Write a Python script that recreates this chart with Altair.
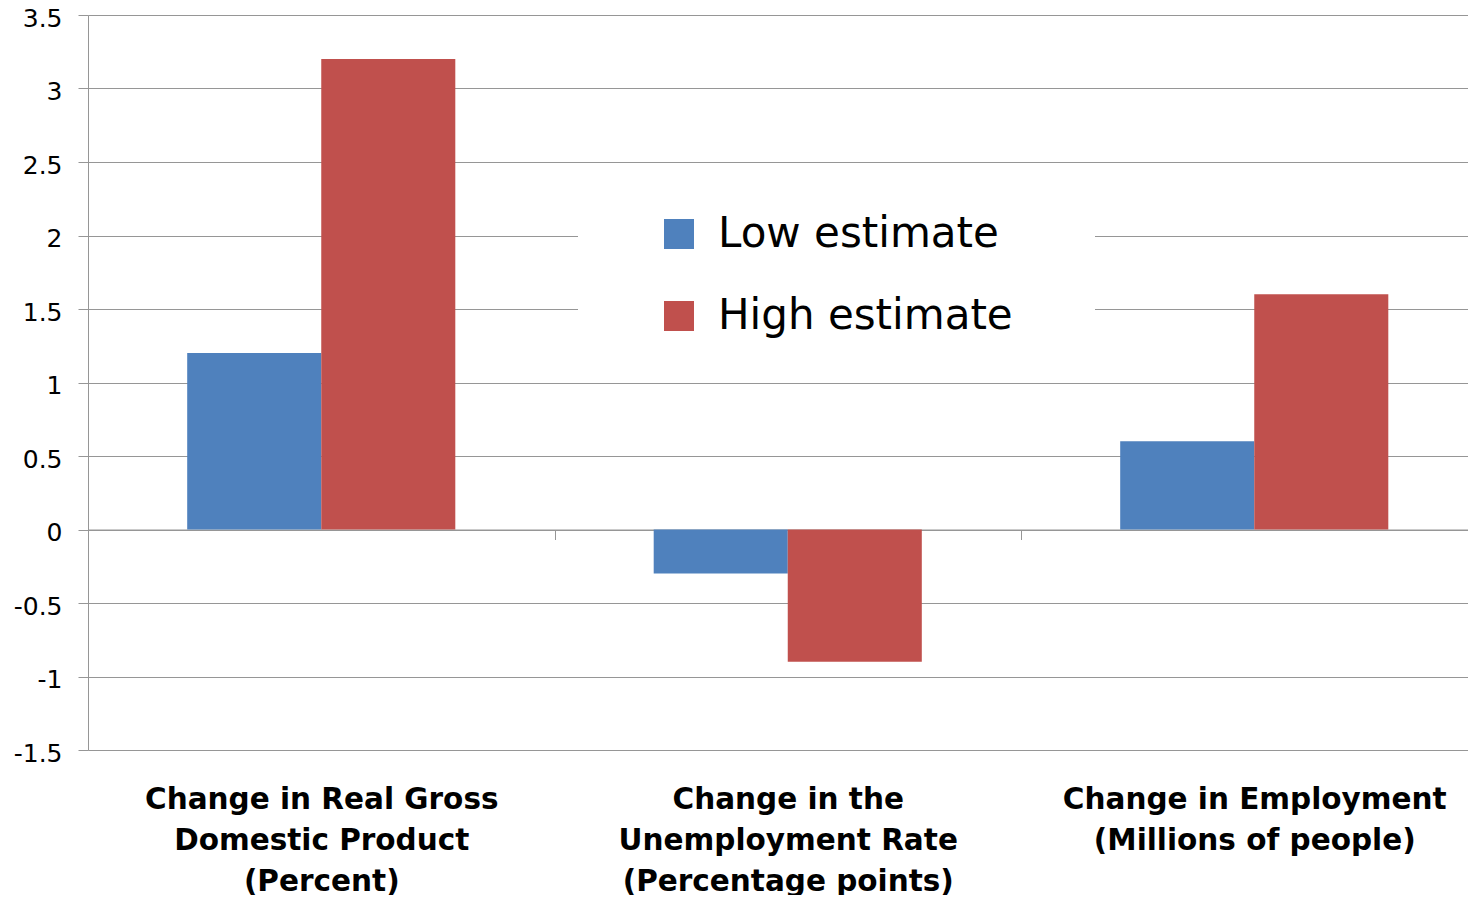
import altair as alt
import pandas as pd

# ---- data ----
categories = [
    "Change in Real Gross|Domestic Product|(Percent)",
    "Change in the|Unemployment Rate|(Percentage points)",
    "Change in Employment|(Millions of people)",
]
series = ["Low estimate", "High estimate"]
low_values = [1.2, -0.3, 0.6]
high_values = [3.2, -0.9, 1.6]
y_ticks = [-1.5, -1, -0.5, 0, 0.5, 1, 1.5, 2, 2.5, 3, 3.5]
colors = ["#4F81BD", "#C0504D"]

rows = []
for c, lo, hi in zip(categories, low_values, high_values):
    rows.append({"category": c, "series": series[0], "value": lo})
    rows.append({"category": c, "series": series[1], "value": hi})
df = pd.DataFrame(rows)

GRID = "#969696"
FONT = "DejaVu Sans"

bars = alt.Chart(df).mark_bar().encode(
    x=alt.X(
        "category:N",
        sort=categories,
        scale=alt.Scale(range=[0, 1399.5], paddingInner=0, paddingOuter=0),
        axis=alt.Axis(
            title=None,
            orient="bottom",
            offset=-220.5,
            tickBand="extent",
            domain=True,
            domainColor=GRID,
            ticks=True,
            tickSize=10,
            tickColor=GRID,
            grid=False,
            labelAngle=0,
            labelPadding=246,
            labelExpr="split(datum.label, '|')",
            labelFont=FONT,
            labelFontWeight="bold",
            labelFontSize=29.5,
            labelLineHeight=41,
            labelBaseline="top",
            labelColor="black",
            labelLimit=0,
            labelOverlap=False,
            labelBound=False,
            labelFlush=False,
        ),
    ),
    xOffset=alt.XOffset(
        "series:N", sort=series, scale=alt.Scale(paddingInner=0, paddingOuter=0.74)
    ),
    y=alt.Y(
        "value:Q",
        scale=alt.Scale(domain=[-1.5, 3.5], nice=False, zero=False),
        axis=alt.Axis(
            title=None,
            values=y_ticks,
            labelExpr="'' + datum.value",
            grid=True,
            gridColor=GRID,
            domain=True,
            domainColor=GRID,
            ticks=True,
            tickSize=10,
            tickColor=GRID,
            labelPadding=16,
            labelOffset=3,
            labelFont=FONT,
            labelFontSize=25,
            labelColor="black",
        ),
    ),
    color=alt.Color(
        "series:N",
        sort=series,
        scale=alt.Scale(domain=series, range=colors),
        legend=alt.Legend(
            title=None,
            orient="none",
            legendX=570,
            legendY=198,
            padding=0,
            symbolType="square",
            symbolSize=900,
            symbolStrokeWidth=0,
            symbolOpacity=1,
            labelFont=FONT,
            labelFontSize=42,
            labelColor="black",
            labelOffset=18,
            labelLimit=0,
            rowPadding=40,
        ),
    ),
)

legend_bg = alt.Chart(pd.DataFrame({"k": [0]})).mark_rect(color="white").encode(
    x=alt.value(490), x2=alt.value(1007), y=alt.value(165), y2=alt.value(330)
)

chart = (
    alt.layer(bars, legend_bg)
    .properties(
        width=1380,
        height=735,
        autosize=alt.AutoSizeParams(type="none"),
        padding={"left": 80, "top": 7, "right": 0, "bottom": 145},
    )
    .configure_view(strokeWidth=0)
    .configure(background="white")
)

chart.save("out.html", embed_options={"renderer": "svg", "actions": False})
